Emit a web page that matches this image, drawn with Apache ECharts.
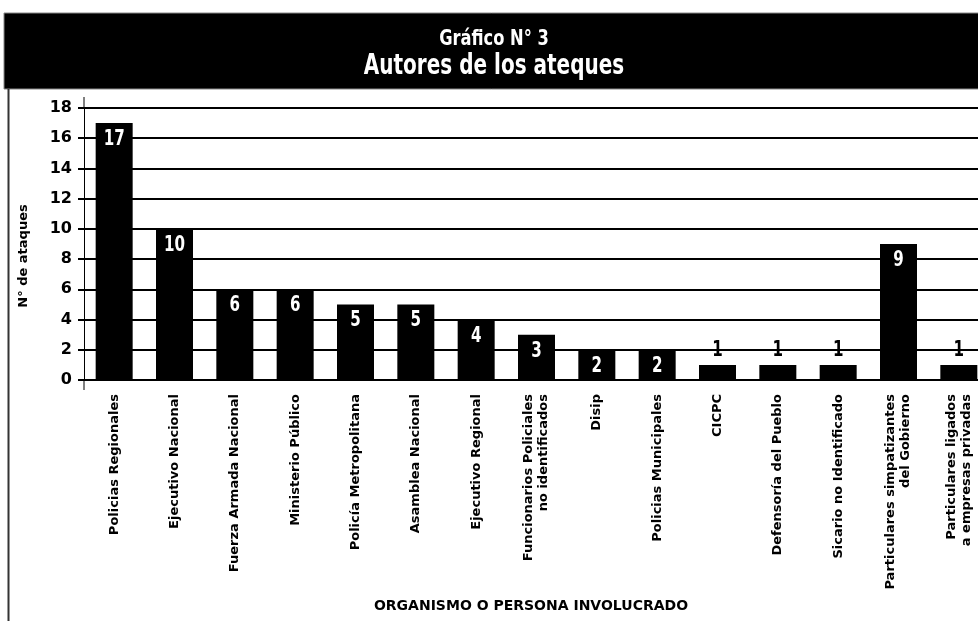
<!DOCTYPE html>
<html>
<head>
<meta charset="utf-8">
<script src="https://cdn.jsdelivr.net/npm/echarts@6/dist/echarts.min.js"></script>
<style>
  html, body { margin: 0; padding: 0; background: #fff; }
  #chart { width: 978px; height: 621px; }
</style>
</head>
<body>
<div id="chart"></div>
<script>
// Organismos involucrados y número de ataques atribuidos
const categories = [
  'Policias Regionales',
  'Ejecutivo Nacional',
  'Fuerza Armada Nacional',
  'Ministerio Público',
  'Policía Metropolitana',
  'Asamblea Nacional',
  'Ejecutivo Regional',
  'Funcionarios Policiales\nno identificados',
  'Disip',
  'Policias Municipales',
  'CICPC',
  'Defensoría del Pueblo',
  'Sicario no Identificado',
  'Particulares simpatizantes\ndel Gobierno',
  'Particulares ligados\na empresas privadas'
];
const ataques = [17, 10, 6, 6, 5, 5, 4, 3, 2, 2, 1, 1, 1, 9, 1];
const yTicks = [0, 2, 4, 6, 8, 10, 12, 14, 16, 18];

const titleLine1 = 'Gráfico N° 3';
const titleLine2 = 'Autores de los ateques';
const yName = 'N° de ataques';
const xName = 'ORGANISMO O PERSONA INVOLUCRADO';

const headFont = "'DejaVu Sans', sans-serif";
const labelFont = "'DejaVu Sans', sans-serif";

const chart = echarts.init(document.getElementById('chart'), null, { renderer: 'canvas' });

// Narrow value labels: white inside tall bars, black above the short ones
function renderValueLabel(params, api) {
  const idx = api.value(0);
  const v = api.value(1);
  const pt = api.coord([idx, v]);
  const small = v <= 1;
  return {
    type: 'text',
    x: pt[0],
    y: small ? pt[1] - 4 : pt[1] + 6,
    scaleX: 0.72,
    style: {
      text: String(v),
      fill: small ? '#000' : '#fff',
      font: 'bold 21px ' + headFont,
      align: 'center',
      verticalAlign: small ? 'bottom' : 'top'
    }
  };
}

chart.setOption({
  animation: false,
  backgroundColor: '#fff',
  grid: {
    left: 84,
    top: 108,
    width: 905,
    height: 272,
    containLabel: false,
    outerBoundsMode: 'none'
  },
  xAxis: {
    type: 'category',
    data: categories,
    boundaryGap: true,
    axisLine: { show: true, lineStyle: { color: '#000', width: 2 } },
    axisTick: { show: false },
    splitLine: { show: false },
    axisLabel: {
      interval: 0,
      rotate: 90,
      margin: 14,
      color: '#000',
      fontFamily: labelFont,
      fontWeight: 'bold',
      fontSize: 13,
      lineHeight: 15
    }
  },
  yAxis: {
    type: 'value',
    min: 0,
    max: 18,
    interval: 2,
    name: yName,
    nameLocation: 'middle',
    nameRotate: 90,
    nameGap: 54,
    nameTextStyle: {
      fontFamily: labelFont, fontWeight: 'bold', fontSize: 13, color: '#000',
      padding: [0, 24, 0, 0]
    },
    axisLine: { show: true, lineStyle: { color: '#000', width: 1 } },
    axisTick: { show: true, length: 6, lineStyle: { color: '#000', width: 2 } },
    splitLine: { show: true, lineStyle: { color: '#000', width: 2 } },
    axisLabel: {
      color: '#000',
      fontFamily: labelFont,
      fontWeight: 'bold',
      fontSize: 16,
      margin: 12,
      formatter: v => (yTicks.includes(v) ? String(v) : '')
    }
  },
  series: [
    {
      type: 'bar',
      data: ataques,
      barWidth: 37,
      itemStyle: { color: '#000' },
      label: { show: false },
      z: 3
    },
    {
      type: 'custom',
      data: ataques.map((v, i) => [i, v]),
      renderItem: renderValueLabel,
      encode: { x: 0, y: 1 },
      silent: true,
      z: 5
    }
  ]
});

// Banner, page border, titles, axis-line extensions and x-axis name
const gridRect = chart.getModel().getComponent('grid').coordinateSystem.getRect();
const axisX = gridRect.x;
const yTop = chart.convertToPixel({ yAxisIndex: 0 }, 18);
const yZero = chart.convertToPixel({ yAxisIndex: 0 }, 0);

chart.setOption({
  graphic: [
    { type: 'rect', shape: { x: 4, y: 13, width: 980, height: 76 }, style: { fill: '#000', stroke: '#888', lineWidth: 1 }, z: 10 },
    { type: 'line', shape: { x1: 8.5, y1: 89, x2: 8.5, y2: 621 }, style: { stroke: '#333', lineWidth: 2 }, z: 10 },
    { type: 'text', x: 494, y: 50, scaleX: 0.74, style: { text: titleLine1, fill: '#fff', font: "bold 22px " + headFont, align: 'center', verticalAlign: 'bottom' }, z: 11 },
    { type: 'text', x: 494, y: 81, scaleX: 0.69, style: { text: titleLine2, fill: '#fff', font: "bold 29px " + headFont, align: 'center', verticalAlign: 'bottom' }, z: 11 },
    { type: 'line', shape: { x1: axisX, y1: yTop - 11, x2: axisX, y2: yTop }, style: { stroke: '#000', lineWidth: 1 }, z: 10 },
    { type: 'line', shape: { x1: axisX, y1: yZero, x2: axisX, y2: yZero + 10 }, style: { stroke: '#000', lineWidth: 1 }, z: 10 },
    { type: 'text', x: 531, y: 606, style: { text: xName, fill: '#000', font: "bold 14px " + labelFont, align: 'center', verticalAlign: 'middle' }, z: 10 }
  ]
});
</script>
</body>
</html>
